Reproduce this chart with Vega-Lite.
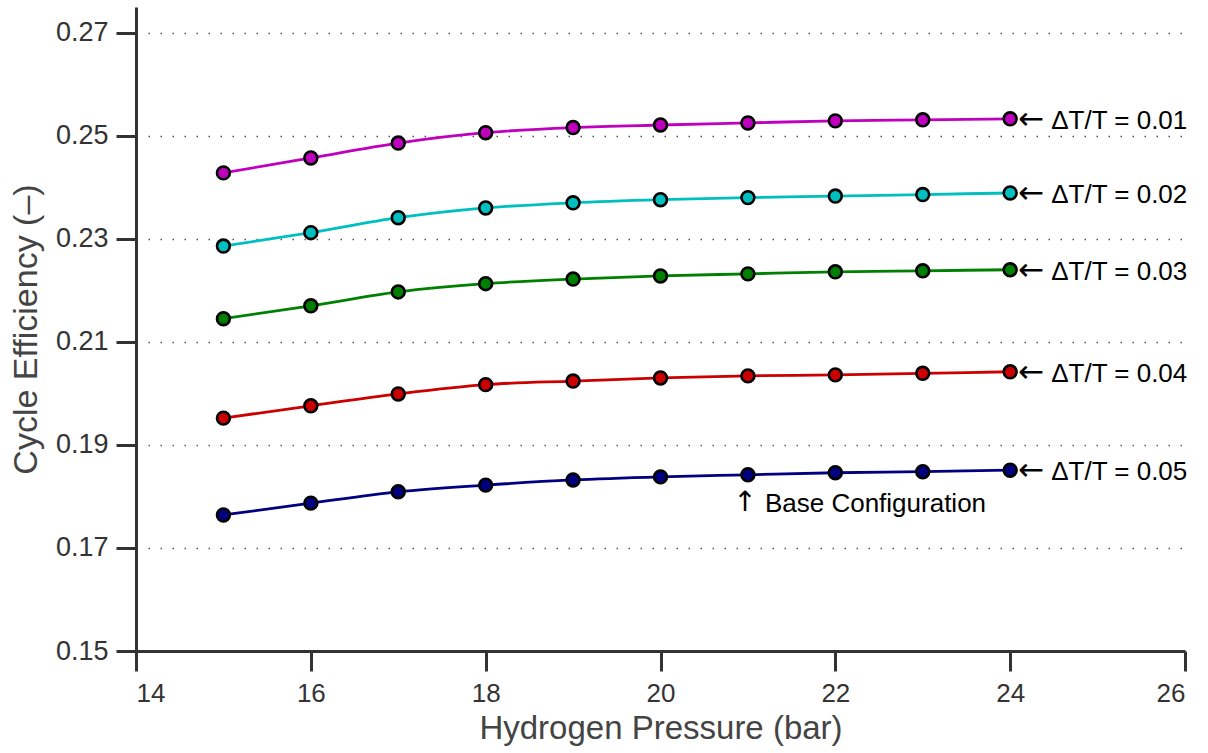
{
  "$schema": "https://vega.github.io/schema/vega-lite/v6.json",
  "autosize": {"type": "none"},
  "width": 1049,
  "height": 644,
  "padding": {"left": 136, "top": 7, "right": 23, "bottom": 102},
  "background": "white",
  "config": {
    "view": {"stroke": null},
    "font": "Liberation Sans"
  },
  "datasets": {
    "series": [
      {"p": 15, "eff": 0.2428, "s": "0.01"},
      {"p": 16, "eff": 0.2457, "s": "0.01"},
      {"p": 17, "eff": 0.2486, "s": "0.01"},
      {"p": 18, "eff": 0.2506, "s": "0.01"},
      {"p": 19, "eff": 0.2516, "s": "0.01"},
      {"p": 20, "eff": 0.2521, "s": "0.01"},
      {"p": 21, "eff": 0.2525, "s": "0.01"},
      {"p": 22, "eff": 0.2529, "s": "0.01"},
      {"p": 23, "eff": 0.2531, "s": "0.01"},
      {"p": 24, "eff": 0.2533, "s": "0.01"},
      {"p": 15, "eff": 0.2286, "s": "0.02"},
      {"p": 16, "eff": 0.2312, "s": "0.02"},
      {"p": 17, "eff": 0.2341, "s": "0.02"},
      {"p": 18, "eff": 0.2360, "s": "0.02"},
      {"p": 19, "eff": 0.2370, "s": "0.02"},
      {"p": 20, "eff": 0.2376, "s": "0.02"},
      {"p": 21, "eff": 0.2380, "s": "0.02"},
      {"p": 22, "eff": 0.2383, "s": "0.02"},
      {"p": 23, "eff": 0.2386, "s": "0.02"},
      {"p": 24, "eff": 0.2389, "s": "0.02"},
      {"p": 15, "eff": 0.2145, "s": "0.03"},
      {"p": 16, "eff": 0.2170, "s": "0.03"},
      {"p": 17, "eff": 0.2197, "s": "0.03"},
      {"p": 18, "eff": 0.2213, "s": "0.03"},
      {"p": 19, "eff": 0.2222, "s": "0.03"},
      {"p": 20, "eff": 0.2228, "s": "0.03"},
      {"p": 21, "eff": 0.2232, "s": "0.03"},
      {"p": 22, "eff": 0.2236, "s": "0.03"},
      {"p": 23, "eff": 0.2238, "s": "0.03"},
      {"p": 24, "eff": 0.2240, "s": "0.03"},
      {"p": 15, "eff": 0.1952, "s": "0.04"},
      {"p": 16, "eff": 0.1976, "s": "0.04"},
      {"p": 17, "eff": 0.1999, "s": "0.04"},
      {"p": 18, "eff": 0.2017, "s": "0.04"},
      {"p": 19, "eff": 0.2024, "s": "0.04"},
      {"p": 20, "eff": 0.2030, "s": "0.04"},
      {"p": 21, "eff": 0.2034, "s": "0.04"},
      {"p": 22, "eff": 0.2036, "s": "0.04"},
      {"p": 23, "eff": 0.2039, "s": "0.04"},
      {"p": 24, "eff": 0.2042, "s": "0.04"},
      {"p": 15, "eff": 0.1764, "s": "0.05"},
      {"p": 16, "eff": 0.1787, "s": "0.05"},
      {"p": 17, "eff": 0.1809, "s": "0.05"},
      {"p": 18, "eff": 0.1822, "s": "0.05"},
      {"p": 19, "eff": 0.1832, "s": "0.05"},
      {"p": 20, "eff": 0.1838, "s": "0.05"},
      {"p": 21, "eff": 0.1842, "s": "0.05"},
      {"p": 22, "eff": 0.1846, "s": "0.05"},
      {"p": 23, "eff": 0.1848, "s": "0.05"},
      {"p": 24, "eff": 0.1851, "s": "0.05"}
    ],
    "labels": [
      {"p": 24, "eff": 0.2533, "arrow": "←", "label": "ΔT/T = 0.01"},
      {"p": 24, "eff": 0.2389, "arrow": "←", "label": "ΔT/T = 0.02"},
      {"p": 24, "eff": 0.2240, "arrow": "←", "label": "ΔT/T = 0.03"},
      {"p": 24, "eff": 0.2042, "arrow": "←", "label": "ΔT/T = 0.04"},
      {"p": 24, "eff": 0.1851, "arrow": "←", "label": "ΔT/T = 0.05"}
    ],
    "notes": [
      {"p": 21, "eff": 0.1787, "arrow": "↑", "label": "Base Configuration"}
    ]
  },
  "layer": [
    {
      "data": {"name": "series"},
      "mark": {"type": "line", "strokeWidth": 2.8, "interpolate": "monotone"},
      "encoding": {
        "x": {
          "field": "p", "type": "quantitative",
          "scale": {"domain": [14, 26], "nice": false, "zero": false},
          "axis": {
            "values": [14, 16, 18, 20, 22, 24, 26],
            "format": "d",
            "grid": false,
            "labelFont": "Liberation Sans",
            "labelFontSize": 26,
            "labelColor": "#333333",
            "labelPadding": 9,
            "domainColor": "#333333",
            "domainWidth": 3,
            "tickColor": "#333333",
            "tickWidth": 3,
            "tickSize": 20,
            "title": "Hydrogen Pressure (bar)",
            "titleFont": "Liberation Sans",
            "titleFontWeight": "normal",
            "titleColor": "#444444",
            "titleFontSize": 33,
            "titlePadding": 6
          }
        },
        "y": {
          "field": "eff", "type": "quantitative",
          "scale": {"domain": [0.15, 0.275], "nice": false, "zero": false},
          "axis": {
            "values": [0.15, 0.17, 0.19, 0.21, 0.23, 0.25, 0.27],
            "format": ".2f",
            "grid": true,
            "gridColor": "#555555",
            "gridDash": [1.5, 10.5],
            "gridWidth": 1.5,
            "labelFont": "Liberation Sans",
            "labelFontSize": 27,
            "labelColor": "#333333",
            "labelPadding": 8,
            "domainColor": "#333333",
            "domainWidth": 3,
            "tickColor": "#333333",
            "tickWidth": 3,
            "tickSize": 20,
            "title": "Cycle Efficiency (–)",
            "titleFont": "Liberation Sans",
            "titleFontWeight": "normal",
            "titleColor": "#444444",
            "titleFontSize": 34,
            "titlePadding": 12
          }
        },
        "color": {
          "field": "s", "type": "nominal",
          "scale": {"domain": ["0.01", "0.02", "0.03", "0.04", "0.05"], "range": ["#bf00bf", "#00bfbf", "#008000", "#cc0000", "#000080"]},
          "legend": null
        }
      }
    },
    {
      "data": {"name": "series"},
      "mark": {"type": "point", "filled": true, "size": 165, "stroke": "black", "strokeWidth": 2.6, "opacity": 1},
      "encoding": {
        "x": {"field": "p", "type": "quantitative"},
        "y": {"field": "eff", "type": "quantitative"},
        "fill": {"field": "s", "type": "nominal", "scale": {"domain": ["0.01", "0.02", "0.03", "0.04", "0.05"], "range": ["#bf00bf", "#00bfbf", "#008000", "#cc0000", "#000080"]}, "legend": null}
      }
    },
    {
      "data": {"name": "labels"},
      "mark": {"type": "text", "align": "left", "baseline": "middle", "dx": 8, "dy": 1, "fontSize": 31, "font": "DejaVu Sans", "color": "black"},
      "encoding": {
        "x": {"field": "p", "type": "quantitative"},
        "y": {"field": "eff", "type": "quantitative"},
        "text": {"field": "arrow"}
      }
    },
    {
      "data": {"name": "labels"},
      "mark": {"type": "text", "align": "left", "baseline": "middle", "dx": 41, "dy": 2, "fontSize": 26, "font": "Liberation Sans", "color": "black"},
      "encoding": {
        "x": {"field": "p", "type": "quantitative"},
        "y": {"field": "eff", "type": "quantitative"},
        "text": {"field": "label"}
      }
    },
    {
      "data": {"name": "notes"},
      "mark": {"type": "text", "align": "center", "baseline": "middle", "dx": -3, "fontSize": 28, "font": "DejaVu Sans", "color": "black"},
      "encoding": {
        "x": {"field": "p", "type": "quantitative"},
        "y": {"field": "eff", "type": "quantitative"},
        "text": {"field": "arrow"}
      }
    },
    {
      "data": {"name": "notes"},
      "mark": {"type": "text", "align": "left", "baseline": "middle", "dx": 17, "dy": 1, "fontSize": 26, "font": "Liberation Sans", "color": "black"},
      "encoding": {
        "x": {"field": "p", "type": "quantitative"},
        "y": {"field": "eff", "type": "quantitative"},
        "text": {"field": "label"}
      }
    }
  ]
}
